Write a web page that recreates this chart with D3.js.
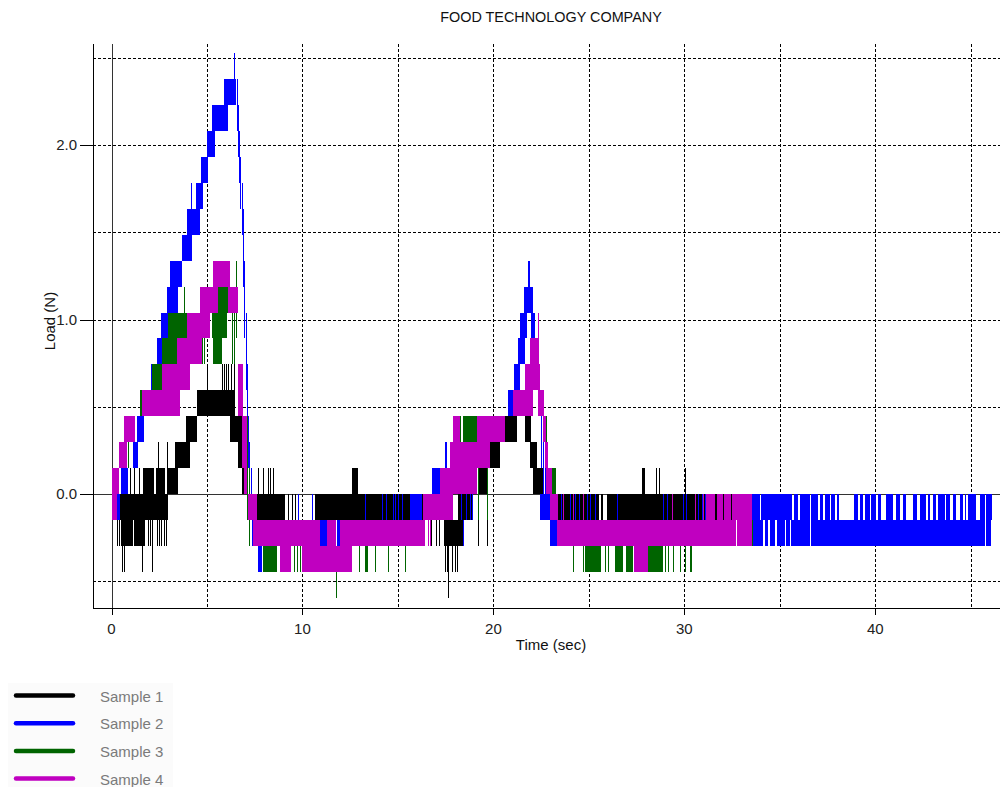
<!DOCTYPE html>
<html>
<head>
<meta charset="utf-8">
<script src="https://cdn.jsdelivr.net/npm/d3@7"></script>
<style>
  html, body { margin: 0; padding: 0; background: #fff; }
  svg { display: block; }
  text { font-family: "Liberation Sans", Arial, sans-serif; }
</style>
</head>
<body>
<svg id="chart" width="1000" height="787"></svg>
<script>
// ---------------- data ----------------
const chartTitle = "FOOD TECHNOLOGY COMPANY";
const xLabel = "Time (sec)";
const yLabel = "Load (N)";
const xTickValues = [0, 10, 20, 30, 40];
const xGridValues = [5, 10, 15, 20, 25, 30, 35, 40, 45];
const yTickValues = [0, 1, 2];
const yGridValues = [-0.5, 0.5, 1.0, 1.5, 2.0, 2.5];
const seriesNames = ["Sample 1", "Sample 2", "Sample 3", "Sample 4"];
const seriesColors = ["#000000", "#0000ff", "#006400", "#c000c0"];

// bands: [tStart, tEnd, lowLoad, highLoad]  (signal flickers between the two levels)
// spikes: [t, lowLoad, highLoad]           (single excursions)
const s1Bands = [
  [0.40, 2.98, -0.149, 0], [0.62, 1.10, -0.297, -0.149], [1.20, 1.75, -0.297, -0.149],
  [1.66, 2.25, 0, 0.149], [2.32, 2.82, 0, 0.149], [2.90, 3.50, 0, 0.149],
  [3.32, 4.11, 0.149, 0.297], [3.90, 4.46, 0.297, 0.446], [4.46, 6.41, 0.446, 0.594],
  [6.20, 6.90, 0.297, 0.446], [6.64, 7.04, 0.149, 0.297], [6.82, 7.08, 0, 0.149],
  [7.10, 7.20, -0.149, 0], [7.60, 9.08, -0.149, 0], [10.65, 16.32, -0.149, 0],
  [12.58, 12.92, 0, 0.149], [17.40, 18.42, -0.297, -0.149], [18.16, 18.94, -0.149, 0],
  [19.20, 19.73, 0, 0.149], [19.82, 20.34, 0.149, 0.297], [20.60, 21.21, 0.297, 0.446],
  [21.65, 21.95, 0.297, 0.446], [21.91, 22.26, 0.149, 0.297], [22.08, 22.61, 0, 0.149],
  [23.40, 25.55, -0.149, 0], [25.65, 25.75, -0.149, 0], [25.95, 33.60, -0.149, 0],
  [27.76, 27.93, 0, 0.149]
];
const s1Spikes = [
  [0.30, -0.297, 0], [0.40, -0.297, 0], [0.50, -0.297, 0],
  [0.57, -0.446, -0.149], [0.67, -0.446, -0.149], [1.61, -0.446, -0.149], [2.14, -0.446, -0.149],
  [1.90, -0.297, 0], [2.00, -0.297, 0], [2.40, -0.297, 0], [2.50, -0.297, 0], [2.60, -0.297, 0],
  [2.76, -0.297, 0], [2.85, -0.297, 0], [0.95, 0, 0.149], [1.20, 0, 0.149], [1.45, 0, 0.149],
  [2.45, 0, 0.297], [2.89, 0, 0.297],
  [4.98, 0.446, 0.743], [5.77, 0.446, 0.743], [5.88, 0.446, 0.743], [5.98, 0.446, 0.743],
  [6.10, 0.446, 0.743], [6.25, 0.446, 0.743], [6.40, 0.446, 0.743],
  [7.69, 0, 0.149], [7.95, 0, 0.149], [8.21, 0, 0.149], [8.30, 0, 0.149], [8.44, 0, 0.149],
  [9.25, -0.149, 0], [9.45, -0.149, 0], [9.60, -0.149, 0],
  [16.60, -0.297, -0.149], [16.75, -0.297, -0.149], [17.00, -0.297, -0.149], [17.15, -0.297, -0.149],
  [17.46, -0.446, -0.149], [17.55, -0.446, -0.149], [17.63, -0.594, -0.149], [17.85, -0.446, -0.149],
  [18.00, -0.446, -0.149], [18.08, -0.446, -0.149],
  [19.20, -0.297, 0], [19.64, -0.297, 0],
  [28.54, 0, 0.149], [28.68, 0, 0.149], [30.03, 0, 0.149]
];

const s2Bands = [
  [0.27, 0.45, -0.149, 0], [0.48, 0.88, 0, 0.149], [1.10, 1.40, 0.149, 0.297],
  [1.32, 1.70, 0.297, 0.446], [1.75, 2.05, 0.446, 0.594], [2.05, 2.37, 0.594, 0.743],
  [2.37, 2.63, 0.743, 0.892], [2.60, 2.98, 0.892, 1.040], [2.89, 3.50, 1.040, 1.189],
  [3.07, 3.68, 1.189, 1.337], [3.68, 4.20, 1.337, 1.486], [3.97, 4.64, 1.486, 1.635],
  [4.43, 4.81, 1.635, 1.783], [4.69, 5.07, 1.783, 1.932], [4.99, 5.42, 1.932, 2.080],
  [5.25, 6.12, 2.080, 2.229], [5.91, 6.51, 2.229, 2.378],
  [7.67, 7.86, -0.446, -0.149], [10.92, 11.27, -0.297, -0.149], [11.79, 11.96, -0.297, -0.149],
  [15.63, 16.24, -0.149, 0], [16.76, 17.20, 0, 0.149], [17.46, 17.58, 0.149, 0.297],
  [20.78, 21.04, 0.446, 0.594], [21.10, 21.40, 0.594, 0.743], [21.27, 21.67, 0.743, 0.892],
  [21.40, 21.76, 0.892, 1.040], [21.97, 22.20, 0.892, 1.040], [21.60, 22.10, 1.040, 1.189],
  [21.82, 21.94, 1.189, 1.337], [22.45, 22.96, -0.149, 0], [22.95, 23.33, -0.297, -0.149],
  // tail, upper level band
  [33.52, 33.95, -0.149, 0], [34.04, 35.66, -0.149, 0], [35.73, 35.96, -0.149, 0],
  [36.05, 36.57, -0.149, 0], [36.66, 37.01, -0.149, 0], [37.09, 37.27, -0.149, 0],
  [37.36, 37.62, -0.149, 0], [37.70, 37.88, -0.149, 0], [37.97, 38.11, -0.149, 0],
  [38.87, 39.10, -0.149, 0], [39.19, 39.36, -0.149, 0], [39.45, 39.71, -0.149, 0],
  [39.80, 40.06, -0.149, 0], [40.15, 40.32, -0.149, 0], [40.58, 40.93, -0.149, 0],
  [41.11, 41.28, -0.149, 0], [41.46, 41.63, -0.149, 0], [41.98, 42.16, -0.149, 0],
  [42.33, 42.68, -0.149, 0], [42.77, 42.85, -0.149, 0], [43.03, 43.20, -0.149, 0],
  [43.29, 43.64, -0.149, 0], [43.73, 43.90, -0.149, 0], [44.07, 44.25, -0.149, 0],
  [44.42, 44.60, -0.149, 0], [44.69, 44.77, -0.149, 0], [44.86, 45.30, -0.149, 0],
  [45.47, 45.73, -0.149, 0], [45.81, 46.13, -0.149, 0],
  // tail, lower level band
  [33.52, 34.13, -0.297, -0.149], [34.22, 34.39, -0.297, -0.149], [34.48, 34.74, -0.297, -0.149],
  [34.83, 35.26, -0.297, -0.149], [35.35, 35.52, -0.297, -0.149], [35.60, 36.57, -0.297, -0.149],
  [36.66, 45.73, -0.297, -0.149], [45.81, 46.05, -0.297, -0.149]
];
const s2Spikes = [
  [4.15, 1.486, 1.783], [6.42, 2.229, 2.526],
  [6.55, 2.080, 2.378], [6.62, 1.932, 2.229], [6.68, 1.783, 2.080], [6.75, 1.635, 1.932],
  [6.82, 1.486, 1.783], [6.88, 1.189, 1.635], [6.95, 0.892, 1.337], [7.02, 0.594, 1.040],
  [7.08, 0.297, 0.743], [7.15, 0.149, 0.446], [7.22, 0, 0.297], [7.30, -0.149, 0.149], [7.38, -0.297, 0],
  [9.78, -0.149, 0], [10.48, -0.149, 0], [13.30, -0.149, 0], [14.15, -0.149, 0], [14.40, -0.149, 0],
  [14.72, -0.149, 0], [14.85, -0.149, 0], [15.00, -0.149, 0], [15.20, -0.149, 0],
  [18.30, -0.149, 0], [18.40, -0.297, -0.149], [18.55, -0.149, 0], [18.75, -0.149, 0], [18.90, -0.149, 0],
  [22.50, 0.149, 0.594], [22.60, 0, 0.446], [22.70, -0.149, 0.297],
  [23.52, -0.149, 0], [24.00, -0.149, 0], [24.27, -0.149, 0], [24.49, -0.149, 0], [24.67, -0.149, 0],
  [24.88, -0.149, 0], [25.05, -0.149, 0], [25.31, -0.149, 0], [26.45, -0.149, 0], [28.89, -0.149, 0],
  [29.07, -0.149, 0], [29.94, -0.149, 0], [30.11, -0.149, 0], [30.72, -0.149, 0], [30.90, -0.149, 0],
  [31.07, -0.149, 0], [31.95, -0.149, 0]
];

const s3Bands = [
  [0.06, 0.18, 0, 0.149], [1.49, 1.66, 0.446, 0.594], [2.19, 2.63, 0.594, 0.743],
  [2.63, 3.41, 0.743, 0.892], [2.97, 3.94, 0.892, 1.040], [5.25, 6.03, 0.892, 1.040],
  [5.56, 6.17, 1.040, 1.189], [5.33, 5.77, 0.743, 0.892], [7.95, 8.65, -0.446, -0.297],
  [13.27, 13.43, -0.446, -0.297], [18.42, 19.12, 0.297, 0.446], [23.05, 23.30, -0.149, 0.149],
  [24.79, 25.66, -0.446, -0.297], [26.36, 26.80, -0.446, -0.297], [26.97, 27.32, -0.446, -0.297],
  [28.10, 28.89, -0.446, -0.297], [30.29, 30.41, -0.446, -0.297]
];
const s3Spikes = [
  [0.85, 0.149, 0.446], [2.10, 0.594, 0.743], [3.45, 0.743, 0.892], [3.80, 1.040, 1.189],
  [4.72, 0.743, 0.892], [4.85, 0.743, 0.892], [6.29, 0.743, 1.040], [6.40, 0.743, 1.040],
  [6.50, 0.892, 1.337], [7.10, -0.149, 0.446], [7.20, -0.297, 0.149],
  [9.55, -0.446, -0.297], [9.70, -0.446, -0.297], [9.85, -0.446, -0.297], [11.75, -0.594, -0.297],
  [12.96, -0.446, -0.297], [13.80, -0.446, -0.297], [14.49, -0.446, -0.297], [15.37, -0.446, -0.297],
  [16.35, -0.149, 0], [17.72, -0.149, 0], [18.25, 0.149, 0.446], [19.20, -0.149, 0.149],
  [19.64, -0.149, 0.149], [22.78, 0.149, 0.446],
  [24.18, -0.446, -0.297], [24.67, -0.446, -0.297], [25.84, -0.446, -0.297], [26.01, -0.446, -0.297],
  [28.98, -0.446, -0.297], [29.15, -0.446, -0.297], [29.41, -0.446, -0.297], [29.76, -0.446, -0.297],
  [30.03, -0.446, -0.297], [32.74, -0.297, -0.149], [33.55, -0.297, -0.149]
];

const s4Bands = [
  [0.00, 0.27, -0.149, 0], [0.00, 0.40, 0, 0.149], [0.41, 0.80, 0.149, 0.297],
  [0.65, 1.23, 0.297, 0.446], [1.58, 3.59, 0.446, 0.594], [2.63, 4.11, 0.594, 0.743],
  [3.41, 4.72, 0.743, 0.892], [3.94, 5.16, 0.892, 1.040], [4.63, 5.59, 1.040, 1.189],
  [6.12, 6.64, 1.040, 1.189], [5.33, 6.20, 1.189, 1.337], [6.64, 6.90, 0.446, 0.743],
  [6.82, 7.08, 0.149, 0.446], [6.95, 7.12, 0, 0.149], [7.17, 7.60, -0.149, 0],
  [7.43, 10.90, -0.297, -0.149], [11.28, 11.78, -0.297, -0.149], [11.97, 16.40, -0.297, -0.149],
  [8.82, 9.40, -0.446, -0.297], [9.98, 12.58, -0.446, -0.297],
  [16.32, 17.90, -0.149, 0], [17.20, 19.12, 0, 0.149], [17.75, 19.82, 0.149, 0.297],
  [17.90, 18.25, 0.297, 0.446], [19.12, 20.60, 0.297, 0.446], [21.04, 22.08, 0.446, 0.594],
  [22.35, 22.66, 0.446, 0.594], [21.65, 22.43, 0.594, 0.743], [21.91, 22.40, 0.743, 0.892],
  [22.62, 22.75, 0.297, 0.446], [22.70, 22.87, 0.149, 0.297], [22.78, 23.05, 0, 0.149],
  [22.96, 23.39, -0.149, 0], [23.31, 32.70, -0.297, -0.149], [32.78, 33.52, -0.297, -0.149],
  [27.37, 28.10, -0.446, -0.297], [31.15, 31.60, -0.149, 0], [31.70, 32.00, -0.149, 0],
  [32.10, 32.42, -0.149, 0], [32.52, 33.52, -0.149, 0]
];
const s4Spikes = [
  [22.34, 0.743, 1.040], [16.55, -0.297, -0.149], [16.70, -0.297, -0.149],
  [23.65, -0.149, 0], [24.18, -0.149, 0], [24.70, -0.149, 0], [29.33, -0.149, 0],
  [30.55, -0.149, 0], [30.98, -0.149, 0]
];

const seriesBands = [s1Bands, s2Bands, s3Bands, s4Bands];
const seriesSpikes = [s1Spikes, s2Spikes, s3Spikes, s4Spikes];

// ---------------- layout ----------------
const svg = d3.select("#chart");
const plot = { left: 93, right: 1000, top: 44, bottom: 608 };
const x = d3.scaleLinear().domain([-0.97, 46.48]).range([plot.left, 999]);
const y = d3.scaleLinear().domain([-0.653, 2.579]).range([plot.bottom, plot.top]);

svg.append("rect").attr("width", 1000).attr("height", 787).attr("fill", "#fff");

// grid
const grid = svg.append("g").attr("stroke", "#000").attr("stroke-width", 1)
  .attr("stroke-dasharray", "3,2").attr("shape-rendering", "crispEdges");
grid.selectAll("line.h").data(yGridValues).join("line").attr("class", "h")
  .attr("x1", plot.left).attr("x2", plot.right)
  .attr("y1", d => Math.round(y(d)) + 0.5).attr("y2", d => Math.round(y(d)) + 0.5);
grid.selectAll("line.v").data(xGridValues).join("line").attr("class", "v")
  .attr("y1", plot.top).attr("y2", plot.bottom)
  .attr("x1", d => Math.round(x(d)) + 0.5).attr("x2", d => Math.round(x(d)) + 0.5);

// zero lines
const zero = svg.append("g").attr("stroke", "#333").attr("stroke-width", 1).attr("shape-rendering", "crispEdges");
zero.append("line").attr("x1", plot.left).attr("x2", plot.right)
  .attr("y1", Math.round(y(0)) + 0.5).attr("y2", Math.round(y(0)) + 0.5);
zero.append("line").attr("y1", plot.top).attr("y2", plot.bottom + 7)
  .attr("x1", Math.round(x(0)) + 0.5).attr("x2", Math.round(x(0)) + 0.5);

// data
seriesBands.forEach((bands, i) => {
  const g = svg.append("g").attr("fill", seriesColors[i]).attr("shape-rendering", "crispEdges");
  g.selectAll("rect").data(bands).join("rect")
    .attr("x", d => x(d[0]))
    .attr("width", d => Math.max(1, x(d[1]) - x(d[0])))
    .attr("y", d => y(d[3]))
    .attr("height", d => y(d[2]) - y(d[3]));
  const gs = svg.append("g").attr("stroke", seriesColors[i]).attr("stroke-width", 1).attr("shape-rendering", "crispEdges");
  gs.selectAll("line").data(seriesSpikes[i]).join("line")
    .attr("x1", d => Math.round(x(d[0])) + 0.5).attr("x2", d => Math.round(x(d[0])) + 0.5)
    .attr("y1", d => y(d[1])).attr("y2", d => y(d[2]));
});

// axes
const axes = svg.append("g").attr("stroke", "#000").attr("stroke-width", 1).attr("shape-rendering", "crispEdges");
axes.append("line").attr("x1", plot.left + 0.5).attr("x2", plot.left + 0.5).attr("y1", plot.top).attr("y2", plot.bottom + 1);
axes.append("line").attr("x1", plot.left).attr("x2", plot.right).attr("y1", plot.bottom + 0.5).attr("y2", plot.bottom + 0.5);
axes.selectAll("line.yt").data(yTickValues).join("line").attr("class", "yt")
  .attr("x1", plot.left - 13).attr("x2", plot.left)
  .attr("y1", d => Math.round(y(d)) + 0.5).attr("y2", d => Math.round(y(d)) + 0.5);
axes.selectAll("line.xt").data(xTickValues).join("line").attr("class", "xt")
  .attr("y1", plot.bottom).attr("y2", plot.bottom + 7)
  .attr("x1", d => Math.round(x(d)) + 0.5).attr("x2", d => Math.round(x(d)) + 0.5);

svg.selectAll("text.yl").data(yTickValues).join("text").attr("class", "yl")
  .attr("x", 77).attr("y", d => y(d) + 5).attr("text-anchor", "end")
  .attr("font-size", 15).attr("fill", "#222").text(d => d3.format(".1f")(d));
svg.selectAll("text.xl").data(xTickValues).join("text").attr("class", "xl")
  .attr("x", d => x(d)).attr("y", 634).attr("text-anchor", "middle")
  .attr("font-size", 15).attr("fill", "#222").text(d => d);

svg.append("text").attr("x", 551).attr("y", 22).attr("text-anchor", "middle")
  .attr("font-size", 14.4).attr("fill", "#111").text(chartTitle);
svg.append("text").attr("x", 551).attr("y", 650).attr("text-anchor", "middle")
  .attr("font-size", 15).attr("fill", "#111").text(xLabel);
svg.append("text").attr("transform", "translate(55,321) rotate(-90)").attr("text-anchor", "middle")
  .attr("font-size", 15).attr("fill", "#111").text(yLabel);

// legend
const legend = svg.append("g");
legend.append("rect").attr("x", 8).attr("y", 683).attr("width", 165).attr("height", 104).attr("fill", "#fbfbfb");
seriesNames.forEach((name, i) => {
  const ly = 695.5 + i * 27.7;
  legend.append("line").attr("x1", 16).attr("x2", 73).attr("y1", ly).attr("y2", ly)
    .attr("stroke", seriesColors[i]).attr("stroke-width", 4.5).attr("stroke-linecap", "round");
  legend.append("text").attr("x", 100).attr("y", ly + 6).attr("font-size", 15)
    .attr("fill", "#7a7a7a").text(name);
});
</script>
</body>
</html>
